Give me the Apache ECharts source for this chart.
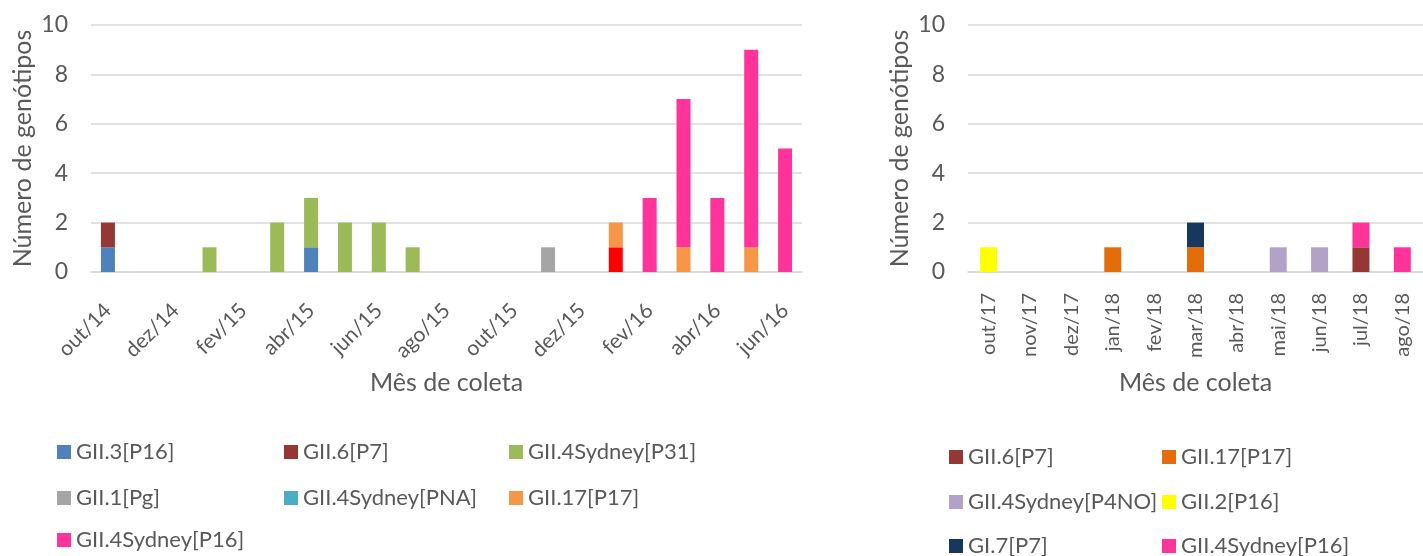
<!DOCTYPE html>
<html>
<head>
<meta charset="utf-8">
<script src="https://cdn.jsdelivr.net/npm/echarts@6/dist/echarts.min.js"></script>
<style>
  html, body { margin: 0; padding: 0; background: #fff; }
  #main { width: 1423px; height: 556px; }
</style>
</head>
<body>
<div id="main"></div>
<script>
// periodo 1: out/14 - jun/16
var meses1 = ['out/14','nov/14','dez/14','jan/15','fev/15','mar/15','abr/15','mai/15','jun/15','jul/15','ago/15','set/15',
              'out/15','nov/15','dez/15','jan/16','fev/16','mar/16','abr/16','mai/16','jun/16'];
var gii3_p16   = [1,0,0,0,0,0,1,0,0,0,0,0,0,0,0,0,0,0,0,0,0];
var gii6_p7    = [1,0,0,0,0,0,0,0,0,0,0,0,0,0,0,0,0,0,0,0,0];
var sydney_p31 = [0,0,0,1,0,2,2,2,2,1,0,0,0,0,0,0,0,0,0,0,0];
var gii1_pg    = [0,0,0,0,0,0,0,0,0,0,0,0,0,1,0,0,0,0,0,0,0];
var sydney_pna = [0,0,0,0,0,0,0,0,0,0,0,0,0,0,0,1,0,0,0,0,0];
var gii17_p17  = [0,0,0,0,0,0,0,0,0,0,0,0,0,0,0,1,0,1,0,1,0];
var sydney_p16 = [0,0,0,0,0,0,0,0,0,0,0,0,0,0,0,0,3,6,3,8,5];

// periodo 2: out/17 - ago/18
var meses2 = ['out/17','nov/17','dez/17','jan/18','fev/18','mar/18','abr/18','mai/18','jun/18','jul/18','ago/18'];
var gii6_p7_b    = [0,0,0,0,0,0,0,0,0,1,0];
var gii17_p17_b  = [0,0,0,1,0,1,0,0,0,0,0];
var sydney_p4no  = [0,0,0,0,0,0,0,1,1,0,0];
var gii2_p16     = [1,0,0,0,0,0,0,0,0,0,0];
var gi7_p7       = [0,0,0,0,0,1,0,0,0,0,0];
var sydney_p16_b = [0,0,0,0,0,0,0,0,0,1,1];

var yTicks = [0, 10, 2]; // min, max, interval

var fonte = 'Lato';
var cinza = '#595959';
var linha = '#D9D9D9';

var myChart = echarts.init(document.getElementById('main'));

function yAxis(idx) {
    return {
        type: 'value', gridIndex: idx, min: yTicks[0], max: yTicks[1], interval: yTicks[2],
        name: 'Número de genótipos', nameLocation: 'middle', nameGap: 56,
        nameTextStyle: { color: cinza, fontSize: 25, fontFamily: fonte },
        axisLine: { show: false }, axisTick: { show: false },
        axisLabel: { color: cinza, fontSize: 23, fontFamily: fonte, margin: 23 },
        splitLine: { lineStyle: { color: linha, width: 1.5 } }
    };
}

function xAxis(idx, cats, rot, every, tam, margem) {
    return {
        type: 'category', gridIndex: idx, data: cats,
        name: 'Mês de coleta', nameLocation: 'middle', nameGap: 98,
        nameTextStyle: { color: cinza, fontSize: 25, fontFamily: fonte },
        axisLine: { lineStyle: { color: linha, width: 1.5 } },
        axisTick: { length: 7, interval: every, lineStyle: { color: linha, width: 1.5 } },
        axisLabel: { color: cinza, fontSize: tam, fontFamily: fonte, rotate: rot, interval: every, margin: margem }
    };
}

function barra(name, data, color, xi, stack, w) {
    return {
        type: 'bar', name: name, data: data, stack: stack, barWidth: w,
        xAxisIndex: xi, yAxisIndex: xi,
        itemStyle: { color: color }
    };
}

// uma legenda por item, para alinhar as colunas
function legenda(name, color, left, centro) {
    return {
        left: left, top: centro - 13, padding: 0,
        itemWidth: 14, itemHeight: 14, icon: 'rect',
        textStyle: { color: cinza, fontSize: 22, fontFamily: fonte, lineHeight: 26 },
        data: [{ name: name, itemStyle: { color: color } }]
    };
}

myChart.setOption({
    backgroundColor: '#fff',
    animation: false,
    grid: [
        { left: 91, top: 25, width: 711, height: 247 },
        { left: 968, top: 25, width: 462, height: 247 }
    ],
    xAxis: [xAxis(0, meses1, 45, 1, 21, 35), xAxis(1, meses2, 90, 0, 20, 21)],
    yAxis: [yAxis(0), yAxis(1)],
    legend: [
        legenda('GII.3[P16]', '#4F81BD', 57, 452),
        legenda('GII.6[P7]', '#953735', 284, 452),
        legenda('GII.4Sydney[P31]', '#9BBB59', 509, 452),
        legenda('GII.1[Pg]', '#A5A5A5', 57, 498),
        legenda('GII.4Sydney[PNA]', '#4BACC6', 284, 498),
        legenda('GII.17[P17]', '#F79646', 509, 498),
        legenda('GII.4Sydney[P16]', '#FF3399', 57, 540),

        legenda('GII.6[P7]', '#953735', 949, 457),
        legenda('GII.17[P17]', '#E46C0A', 1162, 457),
        legenda('GII.4Sydney[P4NO]', '#B3A2C7', 949, 502),
        legenda('GII.2[P16]', '#FFFF00', 1162, 502),
        legenda('GI.7[P7]', '#17375E', 949, 546),
        legenda('GII.4Sydney[P16]', '#FF3399', 1162, 546)
    ],
    series: [
        barra('GII.3[P16]', gii3_p16, '#4F81BD', 0, 'a', 14),
        barra('GII.6[P7]', gii6_p7, '#953735', 0, 'a', 14),
        barra('GII.4Sydney[P31]', sydney_p31, '#9BBB59', 0, 'a', 14),
        barra('GII.1[Pg]', gii1_pg, '#A5A5A5', 0, 'a', 14),
        barra('GII.4Sydney[PNA]', sydney_pna, '#FF0000', 0, 'a', 14), // barra vermelha no grafico
        barra('GII.17[P17]', gii17_p17, '#F79646', 0, 'a', 14),
        barra('GII.4Sydney[P16]', sydney_p16, '#FF3399', 0, 'a', 14),

        barra('GII.6[P7]', gii6_p7_b, '#953735', 1, 'b', 17),
        barra('GII.17[P17]', gii17_p17_b, '#E46C0A', 1, 'b', 17),
        barra('GII.4Sydney[P4NO]', sydney_p4no, '#B3A2C7', 1, 'b', 17),
        barra('GII.2[P16]', gii2_p16, '#FFFF00', 1, 'b', 17),
        barra('GI.7[P7]', gi7_p7, '#17375E', 1, 'b', 17),
        barra('GII.4Sydney[P16]', sydney_p16_b, '#FF3399', 1, 'b', 17)
    ]
});
</script>
</body>
</html>
